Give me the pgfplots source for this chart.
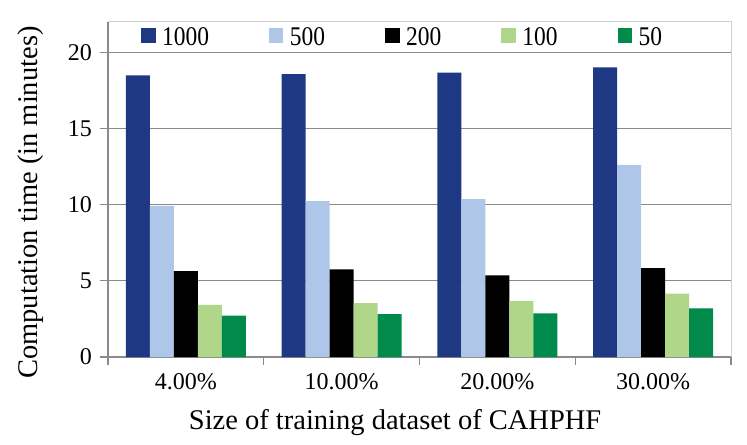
\documentclass[border=0pt]{standalone}
\usepackage{pgfplots}
\pgfplotsset{compat=1.18}
\usepackage{graphicx}
\usepackage{fontspec}
\setmainfont{Liberation Serif}
\definecolor{cA}{HTML}{1E3884}
\definecolor{cB}{HTML}{AEC6E8}
\definecolor{cC}{HTML}{000000}
\definecolor{cD}{HTML}{B0D68A}
\definecolor{cE}{HTML}{008A4B}
\definecolor{gridgray}{HTML}{8A8A8A}
\definecolor{framegray}{HTML}{D0D0D0}
\newcommand{\legtxt}[1]{\scalebox{0.87}[1]{#1}}
\begin{document}
\begin{tikzpicture}
\path[use as bounding box] (0,0) rectangle (747bp,445bp);
\begin{axis}[
  at={(108bp,88bp)}, anchor=south west,
  scale only axis, width=623bp, height=335bp,
  xmin=-0.5, xmax=3.5, ymin=0, ymax=22,
  ybar=0pt, bar width=24bp,
  axis lines*=left,
  axis line style={gridgray, line width=1.2bp},
  xtick={-0.5,0.5,1.5,2.5,3.5},
  xticklabels={},
  extra x ticks={0,1,2,3},
  extra x tick labels={4.00\%,10.00\%,20.00\%,30.00\%},
  extra x tick style={major tick length=0pt, xticklabel style={anchor=north, yshift=-16bp}},
  ytick={0,5,10,15,20},
  major tick length=8bp,
  tick style={gridgray, line width=1.2bp},
  tick align=outside,
  ymajorgrids,
  major grid style={gridgray, line width=1.2bp},
  /pgf/number format/assume math mode=true,
  ticklabel style={font=\fontsize{24bp}{28bp}\selectfont, inner sep=0pt},
  yticklabel style={anchor=east, xshift=-8bp},
  xlabel={Size of training dataset of CAHPHF},
  ylabel={Computation time (in minutes)},
  label style={font=\fontsize{28.5bp}{32bp}\selectfont, inner sep=0pt},
  xlabel style={at={(axis description cs:0.4609,0)}, anchor=base, yshift=-72bp},
  ylabel style={at={(axis description cs:-0.1027,0.461)}, anchor=south},
  legend columns=5,
  legend image code/.code={\fill[#1] (0bp,-5bp) rectangle (14.5bp,10bp);},
  legend style={at={(axis description cs:0.053,0.954)}, anchor=west,
    draw=none, fill=none, inner sep=0pt, outer sep=0pt,
    font=\fontsize{27bp}{30bp}\selectfont,
    nodes={inner sep=0pt},
    /tikz/every odd column/.append style={column sep=6.5bp},
    /tikz/every even column/.append style={column sep=60bp}},
  after end axis/.code={\draw[framegray, line width=1bp] (rel axis cs:0,1) -- (rel axis cs:1,1) -- (rel axis cs:1,0);},
]
\addplot[fill=cA, draw=none] coordinates {(0,18.49) (1,18.57) (2,18.68) (3,19.02)};
\addplot[fill=cB, draw=none] coordinates {(0,9.92) (1,10.23) (2,10.36) (3,12.61)};
\addplot[fill=cC, draw=none] coordinates {(0,5.64) (1,5.76) (2,5.36) (3,5.84)};
\addplot[fill=cD, draw=none] coordinates {(0,3.43) (1,3.54) (2,3.67) (3,4.16)};
\addplot[fill=cE, draw=none] coordinates {(0,2.71) (1,2.82) (2,2.86) (3,3.19)};
\legend{\legtxt{1000},\legtxt{500},\legtxt{200},\legtxt{100},\legtxt{50}}
\end{axis}
\end{tikzpicture}
\end{document}
